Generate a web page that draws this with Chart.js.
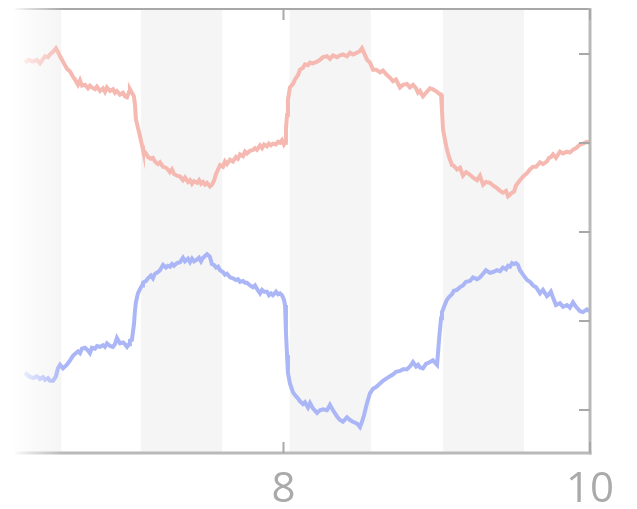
<!DOCTYPE html>
<html>
<head>
<meta charset="utf-8">
<script src="https://cdn.jsdelivr.net/npm/chart.js@4/dist/chart.umd.min.js"></script>
<style>
  html, body { margin: 0; padding: 0; background: #ffffff; }
  #wrap { width: 637px; height: 509px; }
</style>
</head>
<body>
<div id="wrap"><canvas id="chart" width="637" height="509"></canvas></div>
<script>
// Sample times (shared by both traces)
const times = [
  6.313,6.339,6.365,6.391,6.411,6.431,6.444,6.463,6.476,6.496,
  6.515,6.528,6.542,6.561,6.587,6.607,6.626,6.639,6.659,6.672,
  6.685,6.705,6.724,6.737,6.750,6.770,6.783,6.803,6.822,6.835,
  6.848,6.868,6.887,6.900,6.913,6.933,6.953,6.966,6.979,6.992,
  6.998,7.011,7.024,7.031,7.037,7.050,7.064,7.077,7.083,7.103,
  7.116,7.135,7.148,7.161,7.181,7.194,7.214,7.233,7.246,7.259,
  7.272,7.285,7.305,7.325,7.344,7.357,7.377,7.390,7.403,7.416,
  7.436,7.449,7.462,7.475,7.488,7.501,7.520,7.533,7.546,7.560,
  7.573,7.586,7.605,7.618,7.631,7.651,7.670,7.690,7.703,7.716,
  7.736,7.749,7.762,7.781,7.801,7.814,7.827,7.847,7.860,7.873,
  7.892,7.905,7.918,7.931,7.951,7.964,7.977,7.990,8.003,8.010,
  8.016,8.023,8.029,8.042,8.062,8.075,8.095,8.108,8.127,8.140,
  8.160,8.173,8.192,8.219,8.238,8.258,8.284,8.303,8.323,8.349,
  8.369,8.388,8.414,8.434,8.453,8.480,8.499,8.512,8.525,8.545,
  8.564,8.584,8.604,8.630,8.649,8.675,8.695,8.714,8.734,8.760,
  8.780,8.806,8.825,8.845,8.865,8.878,8.891,8.910,8.930,8.956,
  8.975,9.002,9.015,9.028,9.034,9.041,9.054,9.067,9.080,9.099,
  9.112,9.132,9.152,9.171,9.191,9.217,9.236,9.263,9.282,9.302,
  9.321,9.347,9.367,9.393,9.413,9.432,9.452,9.465,9.478,9.491,
  9.504,9.517,9.530,9.543,9.563,9.589,9.608,9.628,9.648,9.674,
  9.693,9.719,9.732,9.745,9.759,9.778,9.804,9.824,9.850,9.869,
  9.889,9.909,9.935,9.954,9.980,10.000
];

// Upper trace
const redTrace = [
  3.90,3.93,3.91,3.93,3.89,3.94,3.97,3.96,3.99,4.02,
  4.06,4.02,3.97,3.91,3.83,3.80,3.74,3.71,3.65,3.70,
  3.64,3.65,3.61,3.64,3.62,3.60,3.63,3.58,3.61,3.57,
  3.62,3.58,3.60,3.56,3.58,3.54,3.56,3.52,3.51,3.57,
  3.60,3.56,3.52,3.43,3.26,3.17,3.07,2.97,2.92,2.88,
  2.84,2.82,2.83,2.79,2.76,2.78,2.73,2.72,2.70,2.67,
  2.70,2.65,2.63,2.62,2.58,2.61,2.56,2.58,2.54,2.57,
  2.55,2.58,2.54,2.56,2.53,2.55,2.51,2.53,2.57,2.65,
  2.70,2.75,2.73,2.79,2.76,2.81,2.79,2.84,2.82,2.87,
  2.85,2.90,2.88,2.91,2.92,2.94,2.92,2.97,2.94,2.98,
  2.96,2.99,2.97,2.99,2.98,3.01,3.00,3.03,2.98,3.00,
  3.15,3.31,3.48,3.62,3.66,3.71,3.76,3.82,3.84,3.88,
  3.87,3.90,3.89,3.91,3.93,3.96,3.97,3.94,3.98,3.96,
  3.98,3.99,3.97,4.01,3.99,4.01,4.03,4.06,4.01,3.93,
  3.90,3.82,3.82,3.79,3.81,3.76,3.73,3.69,3.71,3.62,
  3.65,3.66,3.62,3.65,3.61,3.56,3.58,3.52,3.56,3.61,
  3.60,3.57,3.55,3.54,3.37,3.15,3.03,2.92,2.84,2.75,
  2.74,2.70,2.72,2.63,2.67,2.64,2.61,2.58,2.63,2.53,
  2.56,2.55,2.52,2.49,2.46,2.44,2.46,2.40,2.42,2.44,
  2.45,2.52,2.55,2.58,2.62,2.66,2.70,2.73,2.73,2.78,
  2.76,2.79,2.83,2.84,2.87,2.83,2.90,2.88,2.90,2.89,
  2.92,2.94,2.98,2.99,3.01,3.00
];

// Lower trace
const blueTrace = [
  0.42,0.38,0.36,0.38,0.35,0.37,0.34,0.36,0.33,0.33,
  0.38,0.47,0.51,0.47,0.51,0.56,0.61,0.63,0.66,0.64,
  0.69,0.70,0.67,0.64,0.70,0.69,0.72,0.71,0.73,0.71,
  0.75,0.72,0.71,0.74,0.81,0.75,0.76,0.74,0.71,0.74,
  0.78,0.79,0.96,1.12,1.21,1.31,1.36,1.40,1.43,1.45,
  1.48,1.51,1.48,1.53,1.55,1.57,1.63,1.60,1.62,1.61,
  1.64,1.62,1.65,1.66,1.71,1.67,1.70,1.66,1.70,1.67,
  1.69,1.71,1.67,1.71,1.73,1.75,1.72,1.64,1.63,1.60,
  1.61,1.57,1.55,1.52,1.53,1.49,1.48,1.46,1.47,1.44,
  1.45,1.43,1.43,1.40,1.38,1.40,1.36,1.31,1.35,1.33,
  1.33,1.29,1.31,1.29,1.33,1.30,1.31,1.29,1.24,1.18,
  0.87,0.62,0.42,0.30,0.20,0.17,0.13,0.10,0.07,0.09,
  0.03,0.08,0.02,-0.03,0.00,0.01,0.00,0.06,0.00,-0.07,
  -0.11,-0.13,-0.08,-0.11,-0.13,-0.15,-0.19,-0.13,-0.06,0.08,
  0.19,0.24,0.26,0.30,0.33,0.36,0.38,0.40,0.43,0.44,
  0.46,0.46,0.49,0.54,0.49,0.51,0.48,0.47,0.52,0.54,
  0.56,0.51,0.79,1.03,1.10,1.13,1.19,1.24,1.27,1.30,
  1.34,1.35,1.38,1.40,1.44,1.45,1.49,1.47,1.49,1.53,
  1.57,1.54,1.55,1.57,1.56,1.60,1.58,1.62,1.61,1.65,
  1.64,1.65,1.63,1.57,1.52,1.46,1.44,1.40,1.38,1.31,
  1.35,1.28,1.30,1.33,1.26,1.18,1.20,1.16,1.18,1.15,
  1.21,1.16,1.11,1.10,1.13,1.11
];

// Shaded intervals [start, end]
const bandStarts = [6.04, 7.07, 8.04, 9.04];
const bandEnds   = [6.55, 7.60, 8.57, 9.57];

// Axis ticks
const xTicks = [8, 10];
const xTickLabels = ['8', '10'];
const yTicks = [0, 1, 2, 3, 4];

const xRange = [6.248, 10];
const yRange = [-0.48, 4.5];

const toPoints = (ys) => times.map((t, i) => ({ x: t, y: ys[i] }));

const bandsPlugin = {
  id: 'bands',
  beforeDatasetsDraw(chart) {
    const { ctx, chartArea: a, scales: { x } } = chart;
    ctx.save();
    ctx.beginPath();
    ctx.rect(a.left, a.top, a.right - a.left, a.bottom - a.top);
    ctx.clip();
    ctx.fillStyle = '#f5f5f5';
    bandStarts.forEach((s, i) => {
      const x0 = x.getPixelForValue(s);
      const x1 = x.getPixelForValue(bandEnds[i]);
      ctx.fillRect(x0, a.top, x1 - x0, a.bottom - a.top);
    });
    ctx.restore();
  }
};

const framePlugin = {
  id: 'frame',
  afterDatasetsDraw(chart) {
    const { ctx, chartArea: a, scales: { x, y } } = chart;
    ctx.save();
    // frame: top, right, bottom
    ctx.strokeStyle = '#a8a8a8';
    ctx.lineWidth = 2;
    ctx.beginPath();
    ctx.moveTo(a.left, a.top);
    ctx.lineTo(a.right, a.top);
    ctx.stroke();
    ctx.strokeStyle = '#b9b9b9';
    ctx.lineWidth = 3;
    ctx.beginPath();
    ctx.moveTo(a.right, a.top - 1);
    ctx.lineTo(a.right, a.bottom + 1.5);
    ctx.stroke();
    ctx.beginPath();
    ctx.moveTo(a.left, a.bottom);
    ctx.lineTo(a.right + 1.5, a.bottom);
    ctx.stroke();

    // inward tick marks
    ctx.strokeStyle = '#a8a8a8';
    ctx.lineWidth = 2;
    yTicks.forEach(v => {
      const py = Math.round(y.getPixelForValue(v));
      ctx.beginPath();
      ctx.moveTo(a.right - 11, py);
      ctx.lineTo(a.right, py);
      ctx.stroke();
    });
    xTicks.forEach(v => {
      const px = x.getPixelForValue(v);
      ctx.beginPath();
      ctx.moveTo(px, a.top);
      ctx.lineTo(px, a.top + 11);
      ctx.moveTo(px, a.bottom);
      ctx.lineTo(px, a.bottom - 11);
      ctx.stroke();
    });

    // left-edge fade
    const g = ctx.createLinearGradient(a.left - 3, 0, a.left + 48, 0);
    g.addColorStop(0, 'rgba(255,255,255,1)');
    g.addColorStop(0.35, 'rgba(255,255,255,0.6)');
    g.addColorStop(1, 'rgba(255,255,255,0)');
    ctx.fillStyle = g;
    ctx.fillRect(0, 0, a.left + 48, chart.height);

    // x tick labels
    ctx.fillStyle = '#aaaaaa';
    ctx.font = '42px "Open Sans", sans-serif';
    ctx.textAlign = 'center';
    ctx.textBaseline = 'alphabetic';
    xTicks.forEach((v, i) => {
      ctx.fillText(xTickLabels[i], x.getPixelForValue(v), a.bottom + 49);
    });
    ctx.restore();
  }
};

new Chart(document.getElementById('chart'), {
  type: 'line',
  data: {
    datasets: [
      {
        data: toPoints(redTrace),
        borderColor: '#f5b9b1',
        borderWidth: 4,
        pointRadius: 0,
        tension: 0,
        fill: false
      },
      {
        data: toPoints(blueTrace),
        borderColor: '#abb6f7',
        borderWidth: 4,
        pointRadius: 0,
        tension: 0,
        fill: false
      }
    ]
  },
  options: {
    responsive: false,
    animation: false,
    parsing: true,
    layout: { padding: { left: 15, right: 47, top: 9, bottom: 56 } },
    plugins: { legend: { display: false }, tooltip: { enabled: false } },
    scales: {
      x: { type: 'linear', min: xRange[0], max: xRange[1], display: false },
      y: { type: 'linear', min: yRange[0], max: yRange[1], display: false }
    }
  },
  plugins: [bandsPlugin, framePlugin]
});
</script>
</body>
</html>
